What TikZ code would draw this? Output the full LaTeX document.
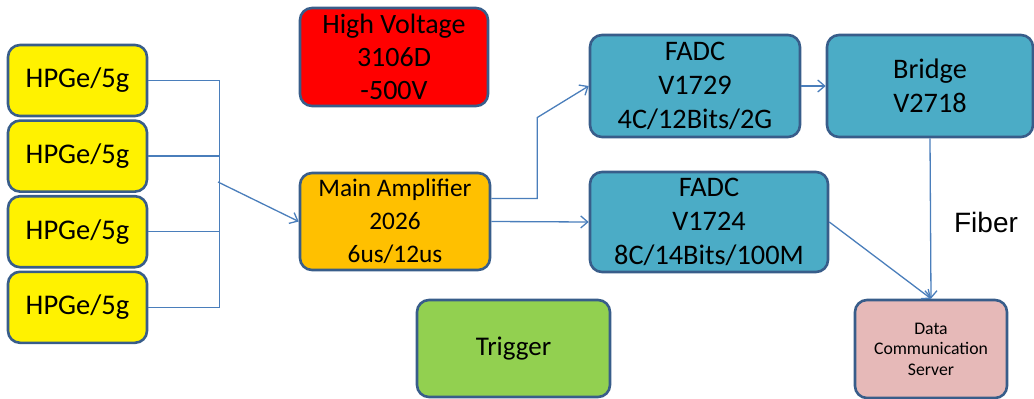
\documentclass[tikz,border=0pt]{standalone}
\usepackage{fontspec}
\setmainfont{Carlito}
\newfontfamily\arialfont{Liberation Sans}
\usepackage{tikz}
\usetikzlibrary{arrows.meta,positioning}
\definecolor{edgeblue}{HTML}{385D8A}
\definecolor{wireblue}{HTML}{4A7EBB}
\definecolor{hvred}{HTML}{FF0000}
\definecolor{ampgold}{HTML}{FFC000}
\definecolor{adcblue}{HTML}{4BACC6}
\definecolor{trigreen}{HTML}{92D050}
\definecolor{srvpink}{HTML}{E6B9B8}
\tikzset{
  wire/.style={draw=wireblue,line width=1.3pt},
  post/.style={wire,->,>={Straight Barb[length=7pt,width=12pt]}},
}

\begin{document}
\begin{tikzpicture}[x=1pt,y=-1pt,
        block/.style={rectangle,rounded corners=12pt,draw=edgeblue,line width=2.6pt,
        inner sep=0pt,align=center,text=black},
        det/.style={block,fill=yellow,minimum width=139pt,minimum height=71pt,
        font={\fontsize{28.5}{34}\selectfont}},
        adc/.style={block,fill=adcblue,font={\fontsize{28.3}{34}\selectfont}},
        node distance=2pt
        ]
    \useasboundingbox (0,0) rectangle (1034,399);

    \node[det] (hpge1) at (77.5,80.5) {HPGe/5g};
    \node[det, below=of hpge1] (hpge2) {HPGe/5g};
    \node[det, below=of hpge2] (hpge3) {HPGe/5g};
    \node[det, below=of hpge3] (hpge4) {HPGe/5g};

    \node[block, fill=hvred, minimum width=188pt, minimum height=98pt,
          font={\fontsize{28}{33}\selectfont}] (hv) at (394,57) {High Voltage\\3106D\\-500V};
    \node[block, fill=ampgold, minimum width=190pt, minimum height=97pt,
          font={\fontsize{25.3}{33}\selectfont}] (amp) at (395,221.5) {Main Amplifier\\2026\\6us/12us};
    \node[adc, minimum width=210pt, minimum height=102pt] (fadca) at (695,86) {FADC\\V1729\\4C/12Bits/2G};
    \node[adc, minimum width=238pt, minimum height=100pt] (fadcb) at (709,222) {FADC\\V1724\\8C/14Bits/100M};
    \node[adc, minimum width=206pt, minimum height=102pt] (bridge) at (930,86) {Bridge\\V2718};
    \node[block, fill=srvpink, minimum width=152pt, minimum height=98pt,
          font={\fontsize{17.7}{20.5}\selectfont}] (dcs) at (931,349) {Data\\Communication\\Server};
    \node[block, fill=trigreen, minimum width=193pt, minimum height=97pt,
          font={\fontsize{27}{30}\selectfont}] (trig) at (513.5,348.5) {Trigger};
    \node[font={\arialfont\fontsize{28}{30}\selectfont}] (fiber) at (986,222) {Fiber};

    % detector bus
    \coordinate (tap) at (218,182);
    \draw[wire] (hpge1.east) -- ++(71,0) |- (hpge4.east);
    \draw[wire] (hpge2.east) -- ++(71,0);
    \draw[wire] (hpge3.east) -- ++(71,0);
    \draw[post] (tap) -- (amp.west);

    \draw[post] ([yshift=23pt]amp.east) -- ++(46,0) -- ++(0,-81) -- (fadca.west);
    \draw[post] (amp.east) -- (fadcb.west);
    \draw[post] (fadca.east) -- (bridge.west);
    \draw[post] (bridge.south) -- (dcs.north);
    \draw[post] (fadcb.east) -- (dcs.north);

  \end{tikzpicture}
\end{document}
